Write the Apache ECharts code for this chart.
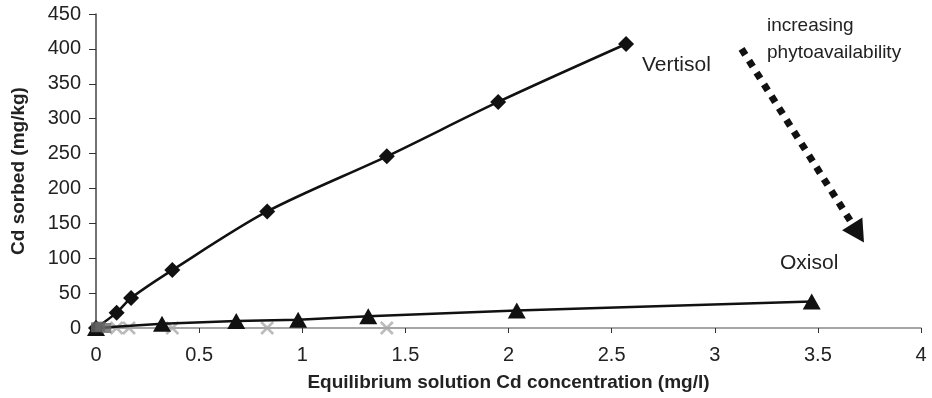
<!DOCTYPE html>
<html><head><meta charset="utf-8">
<script src="https://cdn.jsdelivr.net/npm/echarts@6/dist/echarts.min.js"></script>
<style>html,body{margin:0;padding:0;background:#fff}#c{width:932px;height:398px}</style>
</head><body><div id="c"></div>
<script>
const vertisolX = [0, 0.1, 0.17, 0.37, 0.83, 1.41, 1.95, 2.57];
const vertisolY = [0, 22, 43, 83, 167, 246, 324, 407];
const oxisolX = [0, 0.32, 0.68, 0.98, 1.32, 2.04, 3.47];
const oxisolY = [0, 6, 10, 12, 17, 25, 38];
const lightX = [0.1, 0.16, 0.37, 0.83, 1.41];
const lightY = [0, 0, 0, 0, 0];
const darkX = [0, 0.02, 0.05];
const darkY = [1, 2, 0];
const arrowStart = [3.13, 400];
const arrowEnd = [3.695, 136];
const xTitle = 'Equilibrium solution Cd concentration (mg/l)';
const yTitle = 'Cd sorbed (mg/kg)';

const zip = (a, b) => a.map((v, i) => [v, b[i]]);
const FONT = "'Liberation Sans', Arial, sans-serif";
const crossPath = 'path://M0,0L10,10M10,0L0,10';

const chart = echarts.init(document.getElementById('c'));
chart.setOption({
  animation: false,
  backgroundColor: '#fff',
  grid: { left: 96, right: 11, top: 14, bottom: 70, containLabel: false, outerBoundsMode: 'none' },
  xAxis: {
    type: 'value', min: 0, max: 4, interval: 0.5,
    name: xTitle, nameLocation: 'middle', nameGap: 45,
    nameTextStyle: { fontFamily: FONT, fontSize: 19, fontWeight: 'bold', color: '#222' },
    axisLine: { show: true, lineStyle: { color: '#888', width: 1.5 } },
    axisTick: { show: true, length: 5, lineStyle: { color: '#333', width: 1 } },
    axisLabel: { fontFamily: FONT, fontSize: 20, color: '#222', margin: 17 },
    splitLine: { show: false }
  },
  yAxis: {
    type: 'value', min: 0, max: 450, interval: 50,
    name: yTitle, nameLocation: 'middle', nameGap: 68, nameRotate: 90,
    nameTextStyle: { fontFamily: FONT, fontSize: 19, fontWeight: 'bold', color: '#222' },
    axisLine: { show: true, lineStyle: { color: '#444', width: 1.5 } },
    axisTick: { show: true, length: 7, lineStyle: { color: '#333', width: 1 } },
    axisLabel: { fontFamily: FONT, fontSize: 20, color: '#222', margin: 15 },
    splitLine: { show: false }
  },
  series: [
    {
      name: 'light', type: 'scatter', data: zip(lightX, lightY),
      symbol: crossPath, symbolSize: 12,
      itemStyle: { color: 'rgba(0,0,0,0)', borderColor: '#aaa', borderWidth: 2.5 }, z: 2
    },
    {
      name: 'Oxisol', type: 'line', data: zip(oxisolX, oxisolY),
      symbol: 'triangle', symbolSize: [18, 16], showAllSymbol: true,
      lineStyle: { color: '#111', width: 2.5 }, itemStyle: { color: '#111' }, z: 3
    },
    {
      name: 'Vertisol', type: 'line', data: zip(vertisolX, vertisolY), smooth: 0.3,
      symbol: 'diamond', symbolSize: 16, showAllSymbol: true,
      lineStyle: { color: '#111', width: 2.5 }, itemStyle: { color: '#111' }, z: 4,
      markLine: {
        silent: true, symbol: ['none', 'triangle'], symbolSize: [24, 22],
        lineStyle: { color: '#111', width: 7, type: [7, 7], cap: 'butt' },
        label: { show: false },
        data: [[{ coord: arrowStart }, { coord: arrowEnd }]]
      }
    },
    {
      name: 'dark', type: 'scatter', data: zip(darkX, darkY),
      symbol: 'rect', symbolSize: 10,
      itemStyle: { color: '#666' }, z: 5
    }
  ],
  graphic: [
    { type: 'text', left: 642, top: 55, style: { text: 'Vertisol', font: "21px " + FONT, fill: '#222' } },
    { type: 'text', left: 780, top: 253, style: { text: 'Oxisol', font: "21px " + FONT, fill: '#222' } },
    { type: 'text', left: 767, top: 16, style: { text: 'increasing', font: "19px " + FONT, fill: '#222' } },
    { type: 'text', left: 767, top: 43, style: { text: 'phytoavailability', font: "19px " + FONT, fill: '#222' } }
  ]
});
</script></body></html>
